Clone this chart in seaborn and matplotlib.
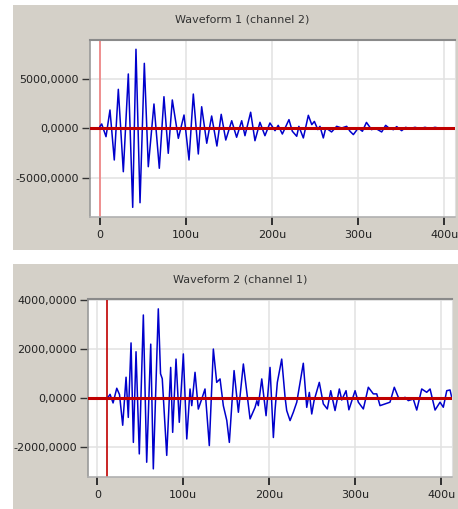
import matplotlib
matplotlib.use("Agg")
import matplotlib.pyplot as plt
from matplotlib.patches import Rectangle
import seaborn as sns
import pandas as pd

# ---------------- data ----------------
w1_t = [0, 2, 7, 11.6, 16.6, 21.3, 27.1, 32.9, 38, 41.8, 46.5, 51.5, 56.1, 62.7, 68.9, 74.3,
        79.3, 84, 91, 97.6, 103.4, 108.4, 114.2, 118.1, 124, 129.7, 135.8, 140.8, 146.1, 153,
        158.7, 164.6, 168.4, 175, 180, 185.8, 191.6, 197.4, 203.3, 207, 211.8, 219.5, 223.4,
        228.5, 231, 236.2, 242, 246, 249, 253, 255.5, 259.4, 262.2, 265.2, 269, 274.9, 280.7,
        286.5, 290.4, 294.3, 300, 304.8, 309.5, 315.5, 319.4, 327.2, 331.8, 335.6, 340.7, 344.6,
        350.4, 355, 360, 365.9, 371.7, 377.5, 383.3, 389.1, 394.9]
w1_v = [200, 440, -850, 1860, -3220, 3960, -4410, 5520, -8030, 8030, -7560, 6600, -3900, 2470,
        -4060, 3210, -2540, 2880, -1020, 1350, -3220, 3480, -2610, 2190, -1520, 1250, -1800, 1420,
        -1190, 770, -910, 770, -750, 1630, -1260, 610, -750, 540, -240, 300, -580, 880, -300, -810,
        200, -980, 1320, 370, 700, -130, 200, -980, 30, -130, -370, 200, 30, 200, -300, -640, 30,
        -300, 600, -140, 30, -370, 300, 30, -140, 170, -240, 100, -30, 100, -30, 100, -30, 100, 0]

w2_t = [11.6, 14.8, 18.3, 22.6, 25.8, 29.5, 33.4, 36, 39.2, 41.9, 45, 48.8, 53.5, 57.4, 62.1,
        65.1, 70.9, 73.5, 75.5, 80.7, 85.3, 87.6, 91.5, 95.3, 100, 104, 107.8, 109.8, 113.6,
        117.4, 121.4, 125.2, 130.2, 134.9, 138.8, 142.7, 146.5, 150.5, 153.5, 159, 164, 169.8,
        177.6, 183.4, 185.5, 187.2, 191.2, 196.2, 200.8, 204.7, 206.6, 209.3, 214.4, 218.3,
        220.2, 224.1, 227.9, 231.9, 239.5, 243.5, 246.5, 249.3, 252, 258.1, 262.8, 267.4, 271.4,
        276.4, 281.4, 284.2, 289.2, 292.5, 299.7, 303.5, 309.3, 315.1, 320.9, 324.9, 328.7,
        334.5, 340.3, 345.3, 350, 354, 357.8, 361.6, 367.4, 371.4, 377.2, 383, 386.9, 392.7,
        398.5, 402.3, 406.3, 410.1, 412.1]
w2_v = [0, 160, -190, 410, 150, -1100, 860, -780, 2260, -1800, 1900, -2270, 3400, -2610, 2210,
        -2880, 3650, 1000, 800, -2330, 1260, -1390, 1600, -980, 1810, -1660, 380, -300, 1060,
        -440, -30, 380, -1930, 2010, 650, 790, -300, -900, -1800, 1130, -570, 1400, -840, -370,
        -100, -300, 790, -710, 1260, -1600, -500, 650, 1600, 40, -500, -910, -570, -160, 1430,
        -370, 240, -640, -100, 650, -230, -435, 310, -500, 380, -70, 310, -470, 310, -160, -435,
        450, 180, 180, -300, -230, -160, 450, 40, -30, 40, -95, -30, -480, 380, 245, 380, -480,
        -160, -365, 310, 340, 40]

titles = ["Waveform 1 (channel 2)", "Waveform 2 (channel 1)"]
x_ticks = [0, 100, 200, 300, 400]
x_labels = ["0", "100u", "200u", "300u", "400u"]
y1_ticks = [-5000, 0, 5000]
y1_labels = ["-5000,0000", "0,0000", "5000,0000"]
y2_ticks = [-2000, 0, 2000, 4000]
y2_labels = ["-2000,0000", "0,0000", "2000,0000", "4000,0000"]
cursor1 = 0
cursor2 = 11.6

# ---------------- figure ----------------
plt.rcParams['font.family'] = ['DejaVu Sans']
W, H = 458, 509
fig = plt.figure(figsize=(W / 100, H / 100), dpi=100, facecolor="white")

GREY = "#d4d0c8"
def px_rect(x0, y0, x1, y1):
    fig.patches.append(Rectangle((x0 / W, 1 - y1 / H), (x1 - x0) / W, (y1 - y0) / H,
                                 transform=fig.transFigure, facecolor=GREY,
                                 edgecolor="none", zorder=-10))
px_rect(13, 5, 458, 250)
px_rect(13, 264, 458, 509)

def px_axes(x0, y0, x1, y1):
    ax = fig.add_axes([x0 / W, 1 - y1 / H, (x1 - x0) / W, (y1 - y0) / H])
    ax.set_zorder(5)
    return ax

ax1 = px_axes(90, 40, 455.3, 217)
ax2 = px_axes(88.3, 299.3, 452, 476.7)

df1 = pd.DataFrame({"t": w1_t, "v": w1_v})
df2 = pd.DataFrame({"t": w2_t, "v": w2_v})

def style(ax, df, xlim, ylim, yt, yl, cursor, cursor_color, title, title_xy):
    ax.set_facecolor("white")
    for x in x_ticks:
        ax.axvline(x, color="#e2e2e2", lw=1.1, zorder=0.5)
    for y in yt:
        ax.axhline(y, color="#e2e2e2", lw=1.1, zorder=0.5)
    ax.axvline(cursor, color=cursor_color, lw=1.2, zorder=1)
    sns.lineplot(data=df, x="t", y="v", ax=ax, color="#0000cc", lw=1.1, zorder=2,
                 estimator=None, sort=False)
    ax.axhline(0, color="#c00000", lw=2.2, zorder=3)
    ax.set_xlim(*xlim)
    ax.set_ylim(*ylim)
    ax.set_xticks(x_ticks)
    ax.set_xticklabels(x_labels)
    ax.set_yticks(yt)
    ax.set_yticklabels(yl)
    ax.set_xlabel("")
    ax.set_ylabel("")
    ax.tick_params(axis="y", length=6, width=1, color="#333333", pad=2,
                   labelsize=8, labelcolor="#222222")
    ax.tick_params(axis="x", length=5.5, width=1.3, color="#222222", pad=4,
                   labelsize=8, labelcolor="#222222")
    ax.grid(False)
    ax.spines["top"].set_color("#8a8a8a")
    ax.spines["top"].set_linewidth(1.5)
    ax.spines["left"].set_color("#9a9a9a")
    ax.spines["left"].set_linewidth(1.2)
    ax.spines["bottom"].set_color("#b0b0b0")
    ax.spines["bottom"].set_linewidth(1.2)
    ax.spines["right"].set_color("#e0e0e0")
    fig.text(title_xy[0] / W, 1 - title_xy[1] / H, title, ha="center", va="center",
             fontsize=8, color="#333333")

style(ax1, df1, (-11.6, 412.7), (-9010, 8970), y1_ticks, y1_labels, cursor1, "#f08080",
      titles[0], (242, 20))
style(ax2, df2, (-10.5, 412.4), (-3200, 4040), y2_ticks, y2_labels, cursor2, "#c00000",
      titles[1], (240, 280))

fig.savefig("out.png", dpi=100, facecolor="white")
